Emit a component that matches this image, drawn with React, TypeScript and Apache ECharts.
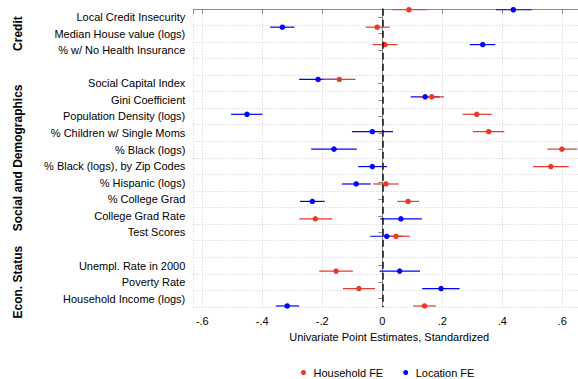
import React, { useEffect, useRef } from "react";
import * as echarts from "echarts";

// Row labels (18 slots, blanks separate the groups)
const rowLabels: string[] = [
  "Local Credit Insecurity",
  "Median House value (logs)",
  "% w/ No Health Insurance",
  "",
  "Social Capital Index",
  "Gini Coefficient",
  "Population Density (logs)",
  "% Children w/ Single Moms",
  "% Black (logs)",
  "% Black (logs), by Zip Codes",
  "% Hispanic (logs)",
  "% College Grad",
  "College Grad Rate",
  "Test Scores",
  "",
  "Unempl. Rate in 2000",
  "Poverty Rate",
  "Household Income (logs)",
];

// slot index of each plotted variable
const slots: number[] = [0, 1, 2, 4, 5, 6, 7, 8, 9, 10, 11, 12, 13, 15, 16, 17];

// Household FE: estimate, lower, upper
const hhEst: number[] = [0.089, -0.017, 0.009, -0.143, 0.165, 0.315, 0.355, 0.599, 0.562, 0.012, 0.086, -0.223, 0.046, -0.154, -0.078, 0.141];
const hhLo: number[] = [0.033, -0.055, -0.032, -0.197, 0.123, 0.268, 0.302, 0.55, 0.503, -0.03, 0.05, -0.277, 0.003, -0.21, -0.131, 0.103];
const hhHi: number[] = [0.148, 0.025, 0.05, -0.089, 0.206, 0.365, 0.407, 0.65, 0.622, 0.055, 0.123, -0.167, 0.092, -0.098, -0.024, 0.179];

// Location FE: estimate, lower, upper
const locEst: number[] = [0.437, -0.333, 0.335, -0.214, 0.143, -0.451, -0.033, -0.161, -0.033, -0.087, -0.233, 0.062, 0.015, 0.058, 0.196, -0.317];
const locLo: number[] = [0.379, -0.374, 0.292, -0.277, 0.095, -0.504, -0.101, -0.237, -0.08, -0.135, -0.274, -0.007, -0.04, -0.009, 0.133, -0.355];
const locHi: number[] = [0.498, -0.293, 0.377, -0.151, 0.192, -0.399, 0.036, -0.085, 0.016, -0.038, -0.192, 0.132, 0.068, 0.126, 0.258, -0.277];

// Group labels
const groupNames: string[] = ["Credit", "Social and Demographics", "Econ. Status"];
const groupFirst: number[] = [0, 4, 15];
const groupLast: number[] = [2, 13, 17];

const RED = "#e8392b";
const BLUE = "#0000ff";
const FONT = "'Liberation Sans', Arial, Helvetica, sans-serif";

function fmtTick(v: number): string {
  const k = v / 0.2;
  if (Math.abs(k - Math.round(k)) > 1e-6) return "";
  const r = Math.round(v * 10);
  if (r === 0) return "0";
  return (r < 0 ? "-" : "") + "." + Math.abs(r);
}

function ciSeries(name: string, lo: number[], hi: number[], color: string) {
  return {
    type: "custom",
    name: name + " CI",
    xAxisIndex: 0,
    yAxisIndex: 1,
    silent: true,
    encode: { x: [1, 2], y: 0 },
    data: slots.map((s, i) => [s, lo[i], hi[i]]),
    renderItem: (params: any, api: any) => {
      const y = api.value(0);
      const p1 = api.coord([api.value(1), y]);
      const p2 = api.coord([api.value(2), y]);
      return {
        type: "line",
        shape: { x1: p1[0], y1: p1[1], x2: p2[0], y2: p2[1] },
        style: { stroke: color, lineWidth: 1.2 },
      };
    },
    z: 2,
  };
}

export default function App() {
  const ref = useRef<HTMLDivElement>(null);
  useEffect(() => {
    document.body.style.margin = "0";
    if (!ref.current) return;
    const chart = echarts.init(ref.current, null, { renderer: "svg" });
    const option: any = {
      animation: false,
      backgroundColor: "#ffffff",
      textStyle: { fontFamily: FONT },
      grid: {
        left: 193.3,
        width: 391.7,
        top: 8.7,
        height: 298.3,
        containLabel: false,
        outerBoundsMode: "none",
      },
      legend: {
        data: ["Household FE", "Location FE"],
        left: 296,
        top: 362,
        icon: "circle",
        itemWidth: 10,
        itemHeight: 5,
        itemGap: 20,
        textStyle: { fontSize: 11, color: "#000", fontFamily: FONT },
      },
      xAxis: {
        type: "value",
        min: -0.63,
        max: 0.676,
        splitNumber: 7,
        name: "Univariate Point Estimates, Standardized",
        nameLocation: "middle",
        nameGap: 24,
        nameTextStyle: { fontSize: 11, color: "#000", fontFamily: FONT },
        axisLine: { show: true, lineStyle: { color: "#8c8c8c", width: 1 } },
        axisTick: { show: true, length: 4, lineStyle: { color: "#8c8c8c" } },
        axisLabel: {
          fontSize: 11,
          color: "#000",
          margin: 8,
          fontFamily: FONT,
          formatter: (v: number) => fmtTick(v),
          showMinLabel: true,
          showMaxLabel: true,
        },
        splitLine: { show: true, lineStyle: { color: "#cfcfcf", type: [1, 2], width: 1 } },
      },
      yAxis: [
        {
          type: "category",
          data: rowLabels,
          inverse: true,
          position: "left",
          axisLine: { show: true, lineStyle: { color: "#8c8c8c", width: 1 } },
          axisTick: {
            show: true,
            alignWithLabel: true,
            length: 4,
            interval: (idx: number, val: string) => val !== "",
            lineStyle: { color: "#8c8c8c" },
          },
          axisLabel: { fontSize: 11, color: "#000", margin: 8, interval: 0, fontFamily: FONT },
          splitLine: {
            show: true,
            interval: (idx: number) => idx > 0,
            lineStyle: { color: "#cfcfcf", type: [1, 2], width: 1 },
          },
        },
        {
          type: "value",
          min: -0.06,
          max: 17.06,
          inverse: true,
          show: false,
        },
      ],
      series: [
        ciSeries("Location FE", locLo, locHi, BLUE),
        ciSeries("Household FE", hhLo, hhHi, RED),
        {
          type: "scatter",
          name: "Household FE",
          xAxisIndex: 0,
          yAxisIndex: 1,
          symbol: "circle",
          symbolSize: 5.5,
          itemStyle: { color: RED, opacity: 1 },
          data: slots.map((s, i) => [hhEst[i], s]),
          z: 3,
          markLine: {
            silent: true,
            symbol: "none",
            label: { show: false },
            lineStyle: { color: "#111", type: [7, 4], width: 1.5 },
            data: [{ xAxis: 0 }],
          },
        },
        {
          type: "scatter",
          name: "Location FE",
          xAxisIndex: 0,
          yAxisIndex: 1,
          symbol: "circle",
          symbolSize: 5.5,
          itemStyle: { color: BLUE, opacity: 1 },
          data: slots.map((s, i) => [locEst[i], s]),
          z: 3,
        },
      ],
    };
    chart.setOption(option);

    const graphics = groupNames.map((g, i) => {
      const y1 = chart.convertToPixel({ yAxisIndex: 0 } as any, rowLabels[groupFirst[i]]) as number;
      const y2 = chart.convertToPixel({ yAxisIndex: 0 } as any, rowLabels[groupLast[i]]) as number;
      return {
        type: "text",
        x: 18,
        y: (y1 + y2) / 2,
        rotation: Math.PI / 2,
        style: {
          text: g,
          fontSize: 12,
          fontWeight: "bold",
          fontFamily: FONT,
          fill: "#000",
          align: "center",
          verticalAlign: "middle",
        },
      };
    });
    chart.setOption({ graphic: graphics });

    return () => chart.dispose();
  }, []);
  return <div ref={ref} style={{ width: 578, height: 379 }} />;
}
